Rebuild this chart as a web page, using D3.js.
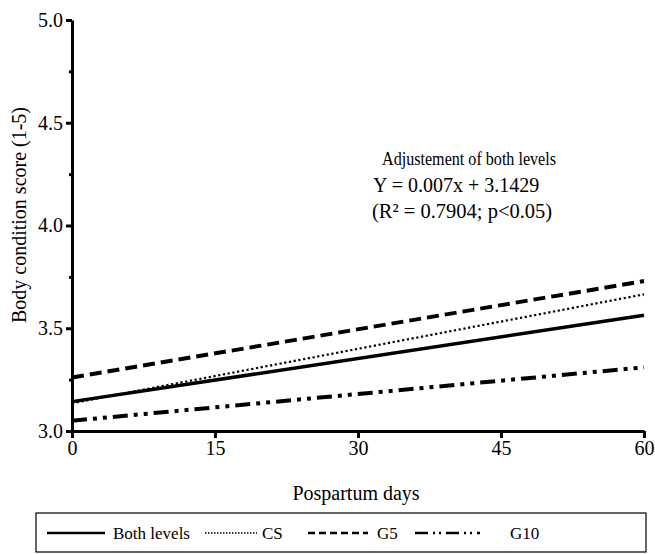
<!DOCTYPE html>
<html>
<head>
<meta charset="utf-8" />
<title>Body condition score</title>
<style>
  body { margin: 0; background: #fff; }
  svg text { font-family: "Liberation Serif", "Times New Roman", serif; fill: #000; }
</style>
</head>
<body>
<svg width="655" height="554"></svg>
<script src="https://cdn.jsdelivr.net/npm/d3@7/dist/d3.min.js"></script>
<script>
// values (fitted lines, start and end of the period)
var days = [0, 60];
var bothLevels = [3.1429, 3.5629];
var cs = [3.135, 3.665];
var g5 = [3.26, 3.73];
var g10 = [3.05, 3.31];

var xTicks = [0, 15, 30, 45, 60];
var yTicks = [3.0, 3.5, 4.0, 4.5, 5.0];
var yMinor = [3.25, 3.75, 4.25, 4.75];

var series = [
    { name: 'Both levels', values: bothLevels, width: 3.5, dash: null,            lw: 2.5, ldash: null },
    { name: 'CS',          values: cs,         width: 2.2, dash: '2.2,2.6',       lw: 1.6, ldash: '1.5,1.5' },
    { name: 'G5',          values: g5,         width: 4,   dash: '12,6',          lw: 2.5, ldash: '7,4' },
    { name: 'G10',         values: g10,        width: 4,   dash: '15,6,4,6,4,6',  lw: 2.5, ldash: '13,5,2,4,2,5' }
];

var svg = d3.select('svg');

var x = d3.scaleLinear().domain([0, 60]).range([72, 644]);
var y = d3.scaleLinear().domain([3, 5]).range([431, 20]);

// lines
var line = d3.line()
    .x(function (d, i) { return x(days[i]); })
    .y(function (d) { return y(d); });

svg.append('g')
    .selectAll('path')
    .data(series)
    .enter()
    .append('path')
    .attr('d', function (d) { return line(d.values); })
    .attr('fill', 'none')
    .attr('stroke', '#000')
    .attr('stroke-width', function (d) { return d.width; })
    .attr('stroke-dasharray', function (d) { return d.dash; });

// axes
var yAxis = svg.append('g')
    .attr('transform', 'translate(72,0)')
    .call(d3.axisLeft(y).tickValues(yTicks).tickFormat(d3.format('.1f')).tickSize(6).tickSizeOuter(0).tickPadding(3));

var yMinorAxis = svg.append('g')
    .attr('transform', 'translate(72,0)')
    .call(d3.axisLeft(y).tickValues(yMinor).tickFormat('').tickSize(3).tickSizeOuter(0));

var xAxis = svg.append('g')
    .attr('transform', 'translate(0,431)')
    .call(d3.axisBottom(x).tickValues(xTicks).tickSize(7).tickSizeOuter(0).tickPadding(3));

[yAxis, yMinorAxis, xAxis].forEach(function (g) {
    g.attr('font-family', null).attr('font-size', null);
    g.select('.domain').attr('stroke-width', 3);
    g.selectAll('.tick line').attr('stroke-width', 3);
    g.selectAll('text')
        .attr('font-family', 'Liberation Serif')
        .style('font-family', '"Liberation Serif", serif')
        .style('font-size', '20px');
});
yMinorAxis.select('.domain').remove();

// axis titles
svg.append('text')
    .attr('transform', 'translate(26,215) rotate(-90)')
    .attr('text-anchor', 'middle')
    .style('font-size', '20px')
    .text('Body condition score (1-5)');

svg.append('text')
    .attr('x', 356)
    .attr('y', 500)
    .attr('text-anchor', 'middle')
    .style('font-size', '20px')
    .text('Pospartum days');

// annotation
var notes = [
    { t: 'Adjustement of both levels', x: 382, y: 165, s: 18, w: 174 },
    { t: 'Y = 0.007x + 3.1429', x: 373, y: 192, s: 20, w: null },
    { t: '(R\u00b2 = 0.7904; p<0.05)', x: 372, y: 218, s: 20.5, w: null }
];
svg.selectAll('.note')
    .data(notes)
    .enter()
    .append('text')
    .attr('class', 'note')
    .attr('x', function (d) { return d.x; })
    .attr('y', function (d) { return d.y; })
    .attr('textLength', function (d) { return d.w; })
    .attr('lengthAdjust', 'spacingAndGlyphs')
    .style('font-size', function (d) { return d.s + 'px'; })
    .text(function (d) { return d.t; });

// legend
svg.append('rect')
    .attr('x', 36)
    .attr('y', 513)
    .attr('width', 610)
    .attr('height', 39)
    .attr('fill', 'none')
    .attr('stroke', '#000')
    .attr('stroke-width', 1.2);

var legendPos = [
    { x1: 47, x2: 105, tx: 113 },
    { x1: 205, x2: 257, tx: 262 },
    { x1: 308, x2: 368, tx: 377 },
    { x1: 415, x2: 480, tx: 510 }
];

var item = svg.selectAll('.legend')
    .data(series)
    .enter()
    .append('g')
    .attr('class', 'legend');

item.append('line')
    .attr('x1', function (d, i) { return legendPos[i].x1; })
    .attr('x2', function (d, i) { return legendPos[i].x2; })
    .attr('y1', 533)
    .attr('y2', 533)
    .attr('stroke', '#000')
    .attr('stroke-width', function (d) { return d.lw; })
    .attr('stroke-dasharray', function (d) { return d.ldash; });

item.append('text')
    .attr('x', function (d, i) { return legendPos[i].tx; })
    .attr('y', 539)
    .style('font-size', '17px')
    .text(function (d) { return d.name; });
</script>
</body>
</html>
